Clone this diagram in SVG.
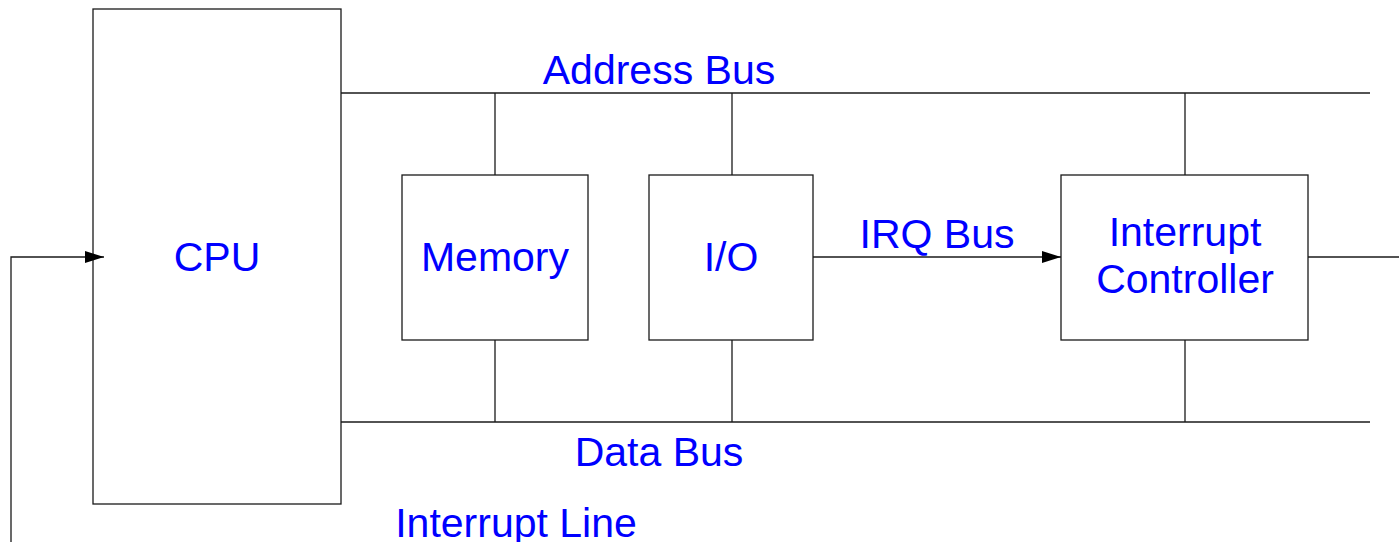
<svg xmlns="http://www.w3.org/2000/svg" width="1399" height="542" viewBox="0 0 1399 542">
  <style>
    .box { fill: #ffffff; stroke: #1a1a1a; stroke-width: 1.3; }
    .wire { fill: none; stroke: #1a1a1a; stroke-width: 1.3; }
    .lbl { font-family: "Liberation Sans", Arial, sans-serif; font-size: 41px; fill: #0000ff; text-anchor: middle; }
  </style>
  <defs>
    <marker id="arrow" markerWidth="20" markerHeight="12" refX="19" refY="6" orient="auto" markerUnits="userSpaceOnUse">
      <path d="M0,0 L19,6 L0,12 Z" fill="#000000"/>
    </marker>
  </defs>

  <rect width="1399" height="542" fill="#ffffff"/>

  <g id="cpu">
    <rect class="box" x="93" y="9" width="248" height="495"/>
    <text class="lbl" x="217" y="271">CPU</text>
  </g>

  <g id="memory">
    <rect class="box" x="402" y="175" width="186" height="165"/>
    <text class="lbl" x="495" y="271">Memory</text>
  </g>

  <g id="io">
    <rect class="box" x="649" y="175" width="164" height="165"/>
    <text class="lbl" x="731" y="271">I/O</text>
  </g>

  <g id="interrupt-controller">
    <rect class="box" x="1061" y="175" width="247" height="165"/>
    <text class="lbl" x="1185" y="246">Interrupt</text>
    <text class="lbl" x="1185" y="293">Controller</text>
  </g>

  <g id="connectors">
    <!-- address bus -->
    <line class="wire" x1="341" y1="93" x2="1370" y2="93"/>
    <!-- data bus -->
    <line class="wire" x1="341" y1="422" x2="1370" y2="422"/>
    <!-- bus taps -->
    <line class="wire" x1="495" y1="93" x2="495" y2="175"/>
    <line class="wire" x1="495" y1="340" x2="495" y2="422"/>
    <line class="wire" x1="732" y1="93" x2="732" y2="175"/>
    <line class="wire" x1="732" y1="340" x2="732" y2="422"/>
    <line class="wire" x1="1185" y1="93" x2="1185" y2="175"/>
    <line class="wire" x1="1185" y1="340" x2="1185" y2="422"/>
    <!-- IRQ bus -->
    <line class="wire" x1="813" y1="257" x2="1061" y2="257" marker-end="url(#arrow)"/>
    <!-- interrupt line -->
    <line class="wire" x1="1308" y1="257" x2="1399" y2="257"/>
    <polyline class="wire" points="11,542 11,257 104,257" marker-end="url(#arrow)"/>
  </g>

  <g id="labels">
    <text class="lbl" x="659" y="84">Address Bus</text>
    <text class="lbl" x="937" y="248">IRQ Bus</text>
    <text class="lbl" x="659" y="466">Data Bus</text>
    <text class="lbl" x="516" y="537">Interrupt Line</text>
  </g>
</svg>
